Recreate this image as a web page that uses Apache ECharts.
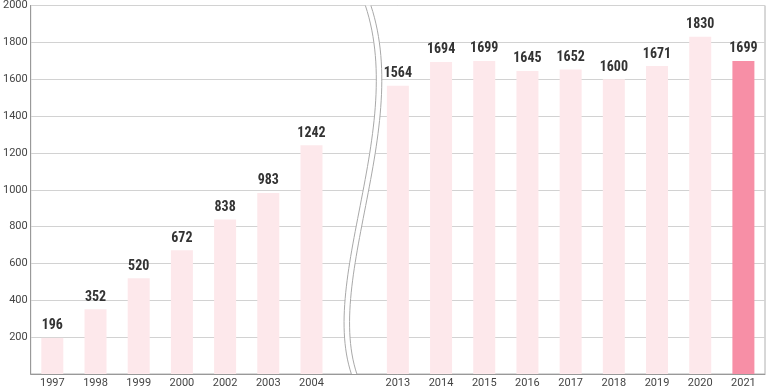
<!DOCTYPE html>
<html><head><meta charset="utf-8">
<script src="https://cdn.jsdelivr.net/npm/echarts@6/dist/echarts.min.js"></script>
<style>html,body{margin:0;padding:0;background:#fff}#c{width:767px;height:391px}</style>
</head><body><div id="c"></div>
<script>
// Categories (an empty slot marks the axis break between 2004 and 2013)
const categories = ['1997','1998','1999','2000','2002','2003','2004','','2013','2014','2015','2016','2017','2018','2019','2020','2021'];
const values = [196, 352, 520, 672, 838, 983, 1242, null, 1564, 1694, 1699, 1645, 1652, 1600, 1671, 1830, 1699];
const highlightYear = '2021';
const breakIndex = 7;
const yMin = 0, yMax = 2000, yStep = 200;

const labelFont = "'Liberation Sans Narrow', 'Roboto Condensed', 'DejaVu Sans Condensed', Roboto, sans-serif";
const axisFont = "Roboto, 'Liberation Sans', sans-serif";

const chart = echarts.init(document.getElementById('c'), null, {renderer: 'canvas'});

const barData = values.map((v, i) => ({
  value: v,
  itemStyle: { color: categories[i] === highlightYear ? '#f78fa6' : '#fde8eb' }
}));

chart.setOption({
  animation: false,
  grid: { left: 30, right: 2, top: 4, bottom: 17, show: true, borderColor: '#b0b0b0', borderWidth: 1, backgroundColor: 'transparent' },
  xAxis: {
    type: 'category',
    data: categories,
    axisLine: { lineStyle: { color: '#999', width: 1 } },
    axisTick: {
      inside: true, length: 5,
      interval: (i) => i !== 0 && i !== breakIndex + 1,
      lineStyle: { color: '#888' }
    },
    axisLabel: { color: '#444', fontSize: 11, margin: 4, fontFamily: axisFont, interval: 0 }
  },
  yAxis: {
    type: 'value', min: yMin, max: yMax, interval: yStep,
    axisLine: { show: true, lineStyle: { color: '#999', width: 1 } },
    axisTick: { show: false },
    splitLine: { lineStyle: { color: '#d2d2d2', width: 1 } },
    axisLabel: { showMinLabel: false, color: '#444', fontSize: 11, margin: 3, fontFamily: axisFont, formatter: (v) => String(v) }
  },
  series: [{
    type: 'bar',
    data: barData,
    barWidth: 22,
    label: { show: true, position: 'top', distance: 5, color: '#333', fontWeight: 'bold', fontSize: 14, fontFamily: labelFont }
  }]
});

// Axis-break wave (decoration), placed relative to the empty category slot
const cx = chart.convertToPixel({xAxisIndex: 0}, breakIndex);
const yT = chart.convertToPixel({yAxisIndex: 0}, yMax);
const yB = chart.convertToPixel({yAxisIndex: 0}, yMin);
const h = yB - yT;
const gap = 5.5;
const ctrl = [[10.7, 0], [51, 0.33], [-35.4, 0.738], [-3.3, 1]].map(p => [cx + p[0], yT + p[1] * h]);
function bez(t, d) {
  const u = 1 - t;
  const a = u * u * u, b = 3 * u * u * t, c = 3 * u * t * t, e = t * t * t;
  return [a * ctrl[0][0] + b * ctrl[1][0] + c * ctrl[2][0] + e * ctrl[3][0] + d,
          a * ctrl[0][1] + b * ctrl[1][1] + c * ctrl[2][1] + e * ctrl[3][1]];
}
const left = [], right = [];
for (let k = 0; k <= 60; k++) { left.push(bez(k / 60, 0)); right.push(bez(k / 60, gap)); }
const poly = left.concat(right.slice().reverse());
chart.setOption({
  graphic: [
    { type: 'polygon', z: 100, shape: { points: poly }, style: { fill: '#fff', stroke: null } },
    { type: 'polyline', z: 101, shape: { points: left }, style: { stroke: '#a8a8a8', lineWidth: 1, fill: null } },
    { type: 'polyline', z: 101, shape: { points: right }, style: { stroke: '#a8a8a8', lineWidth: 1, fill: null } }
  ]
});
</script></body></html>
